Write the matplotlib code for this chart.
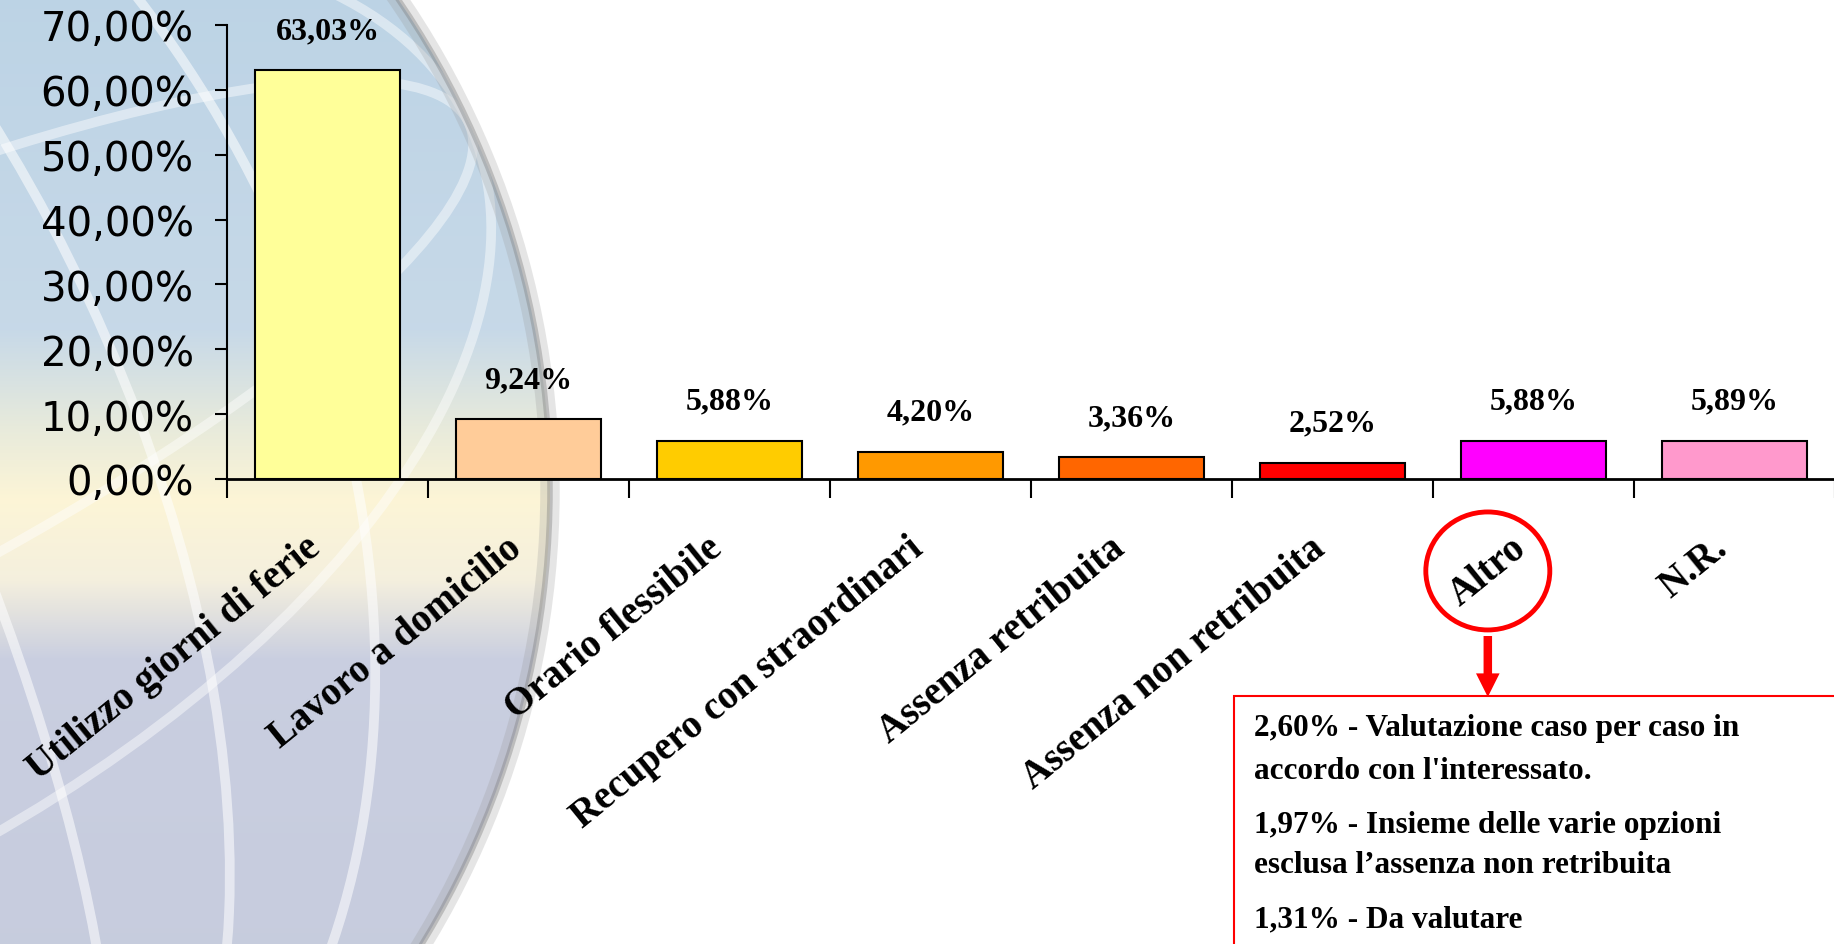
import numpy as np
import matplotlib
matplotlib.use("Agg")
import matplotlib.pyplot as plt
from matplotlib.patches import Circle, Ellipse, FancyArrowPatch, Rectangle, ArrowStyle
from matplotlib.ticker import FuncFormatter, FixedLocator

# data
categories = ["Utilizzo giorni di ferie", "Lavoro a domicilio", "Orario flessibile",
              "Recupero con straordinari", "Assenza retribuita",
              "Assenza non retribuita", "Altro", "N.R."]
values = [63.03, 9.24, 5.88, 4.20, 3.36, 2.52, 5.88, 5.89]
bar_colors = ["#FFFF99", "#FFCC99", "#FFCC00", "#FF9900",
              "#FF6600", "#FF0000", "#FF00FF", "#FF99CC"]
yticks = [0, 10, 20, 30, 40, 50, 60, 70]
altro_notes = ["2,60% - Valutazione caso per caso in",
               "accordo con l'interessato.",
               "1,97% - Insieme delle varie opzioni",
               "esclusa l\u2019assenza non retribuita",
               "1,31% - Da valutare"]

W, H = 1834, 945
SERIF = ["Liberation Serif", "DejaVu Serif"]
RED = "#FF0000"

fig = plt.figure(figsize=(W / 100, H / 100), dpi=100, facecolor="white")

# --- background globe (decoration only) ---
bg = fig.add_axes([0, 0, 1, 1], zorder=-1)
bg.set_xlim(0, W)
bg.set_ylim(0, H)
bg.axis("off")

stops_y = [0, 330, 430, 500, 580, 660, 945]
stops_c = np.array([[0.74, 0.83, 0.90],
                    [0.78, 0.85, 0.91],
                    [0.91, 0.92, 0.86],
                    [0.99, 0.96, 0.84],
                    [0.96, 0.94, 0.87],
                    [0.79, 0.81, 0.88],
                    [0.78, 0.80, 0.87]])
yy = np.arange(H)
grad = np.stack([np.interp(yy, stops_y, stops_c[:, k]) for k in range(3)], axis=-1)
grad = grad[:, None, :]
img = bg.imshow(grad, extent=(0, W, 0, H), origin="upper", aspect="auto")
cx, cy, r = -319, 454, 869
globe = Circle((cx, cy), r, transform=bg.transData, facecolor="none")
bg.add_patch(globe)
img.set_clip_path(globe)

for w in [1300, 900, 500]:
    e = Ellipse((cx, cy), w, 2 * r, angle=25, fill=False, ec="white", lw=7, alpha=0.55)
    bg.add_patch(e)
    e.set_clip_path(globe)
for h in [900, 400]:
    e = Ellipse((cx, cy), 2 * r, h, angle=25, fill=False, ec="white", lw=7, alpha=0.45)
    bg.add_patch(e)
    e.set_clip_path(globe)
bg.add_patch(Circle((cx, cy), r, fill=False, ec="0.6", lw=14, alpha=0.25))
bg.add_patch(Circle((cx, cy), r, fill=False, ec="0.5", lw=4, alpha=0.4))

# --- main chart ---
ax = fig.add_axes([227 / W, 465 / H, 1608 / W, 454 / H])
ax.set_facecolor("none")
x = np.arange(len(categories))
bars = ax.bar(x, values, width=0.72, color=bar_colors, edgecolor="black", linewidth=1.5)
ax.set_xlim(-0.5, len(categories) - 0.5)
ax.set_ylim(0, 70)

for s in ["top", "right"]:
    ax.spines[s].set_visible(False)
ax.spines["left"].set_linewidth(1.5)
ax.spines["bottom"].set_linewidth(2)

ax.set_yticks(yticks)
ax.yaxis.set_major_formatter(FuncFormatter(lambda v, p: "{:.2f}%".format(v).replace(".", ",")))
ax.tick_params(axis="y", direction="out", length=9, width=1.5, pad=15, labelsize=29)

ax.set_xticks(x)
ax.set_xticklabels(categories, rotation=39, ha="right", va="top",
                   fontsize=28, fontweight="bold", family=SERIF)
ax.tick_params(axis="x", which="major", length=0, pad=36)
ax.xaxis.set_minor_locator(FixedLocator(np.arange(-0.5, len(categories), 1.0)))
ax.tick_params(axis="x", which="minor", direction="out", length=14, width=1.5)

for b, v in zip(bars, values):
    ax.annotate("{:.2f}%".format(v).replace(".", ","),
                (b.get_x() + b.get_width() / 2, v), xytext=(0, 18),
                textcoords="offset points", ha="center", va="bottom",
                fontsize=23, fontweight="bold", family=SERIF)

# --- callout for "Altro" ---
ov = fig.add_axes([0, 0, 1, 1], zorder=5)
ov.set_xlim(0, W)
ov.set_ylim(0, H)
ov.axis("off")
ov.patch.set_alpha(0)

fig.canvas.draw()
ia = categories.index("Altro")
lb = ax.get_xticklabels()[ia].get_window_extent()
xa, ya = (lb.x0 + lb.x1) / 2, (lb.y0 + lb.y1) / 2
ov.add_patch(Ellipse((xa, ya), 124, 118, fill=False, ec=RED, lw=3.5))
ov.add_patch(FancyArrowPatch((xa, H - 637), (xa, H - 698),
                             arrowstyle=ArrowStyle("Simple", head_length=1.0,
                                                   head_width=1.0, tail_width=0.36),
                             mutation_scale=17, color=RED, lw=0,
                             shrinkA=0, shrinkB=0))
ov.add_patch(Rectangle((1234, -5), 700, H - 697 + 5, facecolor="white",
                       edgecolor=RED, lw=1.5))
note_y = [729, 772, 826, 866, 920]
for ty, line in zip(note_y, altro_notes):
    ov.text(1254, H - ty, line, ha="left", va="center", fontsize=22.5,
            fontweight="bold", family=SERIF)

fig.savefig("out.png", dpi=100, facecolor="white")
